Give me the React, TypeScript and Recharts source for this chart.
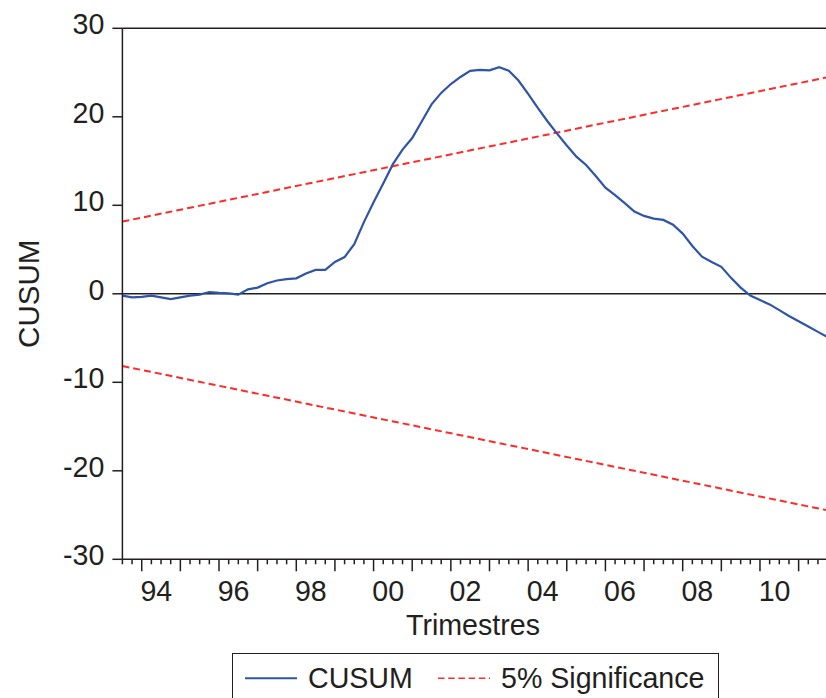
import React from "react";
import {
  LineChart,
  Line,
  XAxis,
  YAxis,
  ReferenceLine,
} from "recharts";

// quarterly CUSUM, first observation 1993Q3
const startYear = 1993;
const startQuarter = 3;

const cusum = [
  -0.2, -0.4, -0.35, -0.2, -0.4, -0.6, -0.4, -0.2, -0.1, 0.2,
  0.1, 0.05, -0.1, 0.5, 0.7, 1.2, 1.5, 1.65, 1.75, 2.3,
  2.7, 2.7, 3.6, 4.15, 5.6, 8.1, 10.35, 12.45, 14.65, 16.3,
  17.6, 19.5, 21.4, 22.7, 23.7, 24.5, 25.2, 25.3, 25.25, 25.6,
  25.2, 24.1, 22.6, 21.0, 19.5, 18.1, 16.75, 15.5, 14.55, 13.3,
  12.0, 11.15, 10.25, 9.3, 8.8, 8.5, 8.35, 7.8, 6.8, 5.4,
  4.2, 3.6, 3.05, 1.8, 0.7, -0.2, -0.7, -1.2, -1.85, -2.5,
  -3.1, -3.7, -4.3, -4.9,
];

// 5% bands: straight lines, only the two ends are given
const upperEnds = [8.16, 24.47];
const lowerEnds = [-8.16, -24.47];

const yTicks = [-30, -20, -10, 0, 10, 20, 30];
const yearLabels = ["94", "96", "98", "00", "02", "04", "06", "08", "10"];

const periodOf = (i: number) => {
  const n = startQuarter - 1 + i;
  return { year: startYear + Math.floor(n / 4), q: (n % 4) + 1 };
};

const last = cusum.length - 1;
const data = cusum.map((v, i) => ({
  idx: i,
  cusum: v,
  upper: i === 0 ? upperEnds[0] : i === last ? upperEnds[1] : null,
  lower: i === 0 ? lowerEnds[0] : i === last ? lowerEnds[1] : null,
}));
const xTicks = data.map((d) => d.idx);

const FONT = "'Liberation Sans', Arial, sans-serif";
const FS = 28.6;
const INK = "#231f20";
const BLUE = "#2f54a8";
const RED = "#ff2a2a";

const QuarterTick = (props: any) => {
  const { x, y, payload } = props;
  const p = periodOf(payload.value);
  const major = p.q === 1;
  const lab = String(p.year % 100).padStart(2, "0");
  const show = major && yearLabels.includes(lab);
  return (
    <g>
      <line x1={x} x2={x} y1={y} y2={y + (major ? 12 : 5)} stroke={INK} strokeWidth={1.5} />
      {show && (
        <text x={x + 14.6} y={y + 42} textAnchor="middle" fontFamily={FONT} fontSize={FS} fill={INK}>
          {lab}
        </text>
      )}
    </g>
  );
};

const ValueTick = (props: any) => {
  const { x, y, payload } = props;
  return (
    <text x={x} y={y + 6} textAnchor="end" fontFamily={FONT} fontSize={FS} fill={INK}>
      {payload.value}
    </text>
  );
};

export default function App() {
  return (
    <div
      style={{
        position: "absolute",
        left: 0,
        top: 0,
        width: 826,
        height: 698,
        overflow: "hidden",
        background: "#fff",
      }}
    >
      <LineChart
        width={840}
        height={698}
        data={data}
        margin={{ top: 28.3, right: 12.4, bottom: 38.7, left: 0 }}
      >
        <XAxis
          dataKey="idx"
          type="number"
          domain={[0, last]}
          ticks={xTicks}
          interval={0}
          tick={<QuarterTick />}
          tickLine={false}
          tickSize={0}
          tickMargin={0}
          height={100}
          axisLine={{ stroke: INK, strokeWidth: 1.5 }}
          label={{
            content: ({ viewBox }: any) => (
              <text
                x={viewBox.x + viewBox.width / 2 - 2}
                y={viewBox.y + 76}
                textAnchor="middle"
                fontFamily={FONT}
                fontSize={FS}
                fill={INK}
              >
                Trimestres
              </text>
            ),
          }}
        />
        <YAxis
          type="number"
          domain={[-30, 30]}
          ticks={yTicks}
          interval={0}
          width={122.4}
          tick={<ValueTick />}
          tickSize={10}
          tickMargin={8}
          tickLine={{ stroke: INK, strokeWidth: 1.5 }}
          axisLine={{ stroke: INK, strokeWidth: 1.5 }}
          label={{
            content: ({ viewBox }: any) => (
              <text
                x={29}
                y={viewBox.y + viewBox.height / 2}
                transform={`rotate(-90, 29, ${viewBox.y + viewBox.height / 2})`}
                textAnchor="middle"
                dominantBaseline="central"
                fontFamily={FONT}
                fontSize={29.5}
                fill={INK}
              >
                CUSUM
              </text>
            ),
          }}
        />
        <ReferenceLine y={30} stroke={INK} strokeWidth={1.5} />
        <ReferenceLine y={0} stroke={INK} strokeWidth={1.5} />
        <Line
          dataKey="upper"
          stroke={RED}
          strokeWidth={2}
          strokeDasharray="7 4"
          dot={false}
          connectNulls
          isAnimationActive={false}
        />
        <Line
          dataKey="lower"
          stroke={RED}
          strokeWidth={2}
          strokeDasharray="7 4"
          dot={false}
          connectNulls
          isAnimationActive={false}
        />
        <Line
          dataKey="cusum"
          stroke={BLUE}
          strokeWidth={2.2}
          dot={false}
          isAnimationActive={false}
        />
      </LineChart>

      <div
        style={{
          position: "absolute",
          left: 232,
          top: 653,
          width: 487,
          height: 80,
          border: `1.5px solid ${INK}`,
          boxSizing: "border-box",
        }}
      >
        <svg width={487} height={80} style={{ position: "absolute", left: -1.5, top: -1.5 }}>
          <line x1={13} x2={65} y1={25.3} y2={25.3} stroke={BLUE} strokeWidth={2} />
          <text x={76} y={35} fontFamily={FONT} fontSize={FS} fill={INK}>
            CUSUM
          </text>
          <line x1={206} x2={258} y1={25.3} y2={25.3} stroke={RED} strokeWidth={1.6} strokeDasharray="6.5 3.7" />
          <text x={269} y={35} fontFamily={FONT} fontSize={FS} fill={INK}>
            5% Significance
          </text>
        </svg>
      </div>
    </div>
  );
}
